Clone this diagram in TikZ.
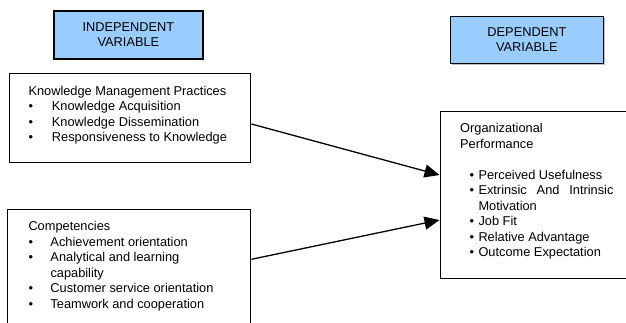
\documentclass[tikz,border=0pt]{standalone}
\usepackage{fontspec}
\setmainfont{Liberation Sans}
\usetikzlibrary{arrows.meta,calc,shadows}
\definecolor{varblue}{HTML}{99CCFF}
\newcommand{\fs}{\fontsize{12.8}{15.5}\selectfont}
\newcommand{\kmb}[1]{\makebox[23.4pt][l]{\textbullet}#1}
\newcommand{\cpb}[1]{\makebox[22pt][l]{\textbullet}#1}
\newcommand{\opb}[1]{\makebox[18.3pt][l]{\hspace*{9.5pt}\textbullet}#1}
\begin{document}
\begin{tikzpicture}[x=1pt,y=-1pt,
  box/.style={draw, line width=1.4pt, inner sep=0, anchor=north west},
  varbox/.style={draw, line width=1.8pt, fill=varblue, inner sep=0, anchor=north west,
    align=center, font=\fontsize{12.8}{14.7}\selectfont,
    drop shadow={shadow xshift=1.2pt, shadow yshift=-1.2pt, fill=gray!50, opacity=1}},
  txt/.style={anchor=north west, inner sep=0, align=left, font=\fs},
  link/.style={line width=1.3pt, -{Triangle[length=15pt,width=13pt]}}]
\useasboundingbox (0,0) rectangle (626,322);
% variable labels
\node[varbox, minimum width=149pt, minimum height=48pt] (iv) at (53,10) {INDEPENDENT\\VARIABLE};
\node[varbox, minimum width=153pt, minimum height=47pt] (dv) at (449.5,15.5) {DEPENDENT\\VARIABLE};
% boxes
\node[box, minimum width=241.5pt, minimum height=89pt] (km) at (8.5,73) {};
\node[box, minimum width=243pt, minimum height=124pt] (cp) at (7,208.5) {};
\node[box, minimum width=200pt, minimum height=166.5pt] (op) at (439.5,111) {};
% texts
\node[txt] (kmt) at (28.3,84.2) {\strut Knowledge Management Practices\\
  \kmb{Knowledge Acquisition}\\
  \kmb{Knowledge Dissemination}\\
  \kmb{Responsiveness to Knowledge}};
\node[txt] (cpt) at (28.3,219.9) {\strut Competencies\\
  \cpb{Achievement orientation}\\
  \cpb{Analytical and learning}\\
  \hspace*{22pt}capability\\
  \cpb{Customer service orientation}\\
  \cpb{Teamwork and cooperation}};
\node[txt] (opt) at (460,121.5) {\strut Organizational\\
  Performance\\
  \mbox{}\\
  \opb{Perceived Usefulness}\\
  \opb{\makebox[135pt][s]{Extrinsic And Intrinsic}}\\
  \hspace*{18.3pt}Motivation\\
  \opb{Job Fit}\\
  \opb{Relative Advantage}\\
  \opb{Outcome Expectation}};
% connectors
\draw[link] ($(km.north east)+(0,51)$) -- ($(op.north west)+(0,64)$);
\draw[link] ($(cp.north east)+(0,50.8)$) -- ($(op.north west)+(0,109)$);
\end{tikzpicture}
\end{document}
